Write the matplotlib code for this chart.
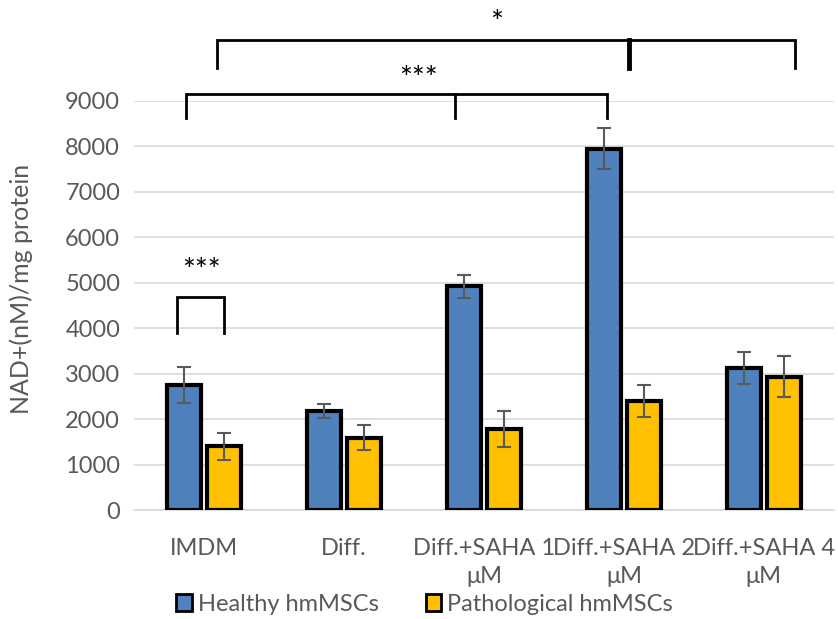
import numpy as np
import matplotlib.pyplot as plt

plt.rcParams['font.family'] = ['Lato', 'DejaVu Sans']

categories = ['IMDM', 'Diff.', 'Diff.+SAHA 1\nμM', 'Diff.+SAHA 2\nμM', 'Diff.+SAHA 4\nμM']
healthy = [2750, 2180, 4920, 7950, 3120]
healthy_err = [390, 145, 260, 445, 355]
pathological = [1400, 1590, 1780, 2400, 2930]
pathological_err = [305, 270, 390, 360, 450]
series_names = ['Healthy hmMSCs', 'Pathological hmMSCs']
yticks = [0, 1000, 2000, 3000, 4000, 5000, 6000, 7000, 8000, 9000]

blue = '#4f81bd'
yellow = '#ffc000'
grey = '#595959'

fig = plt.figure(figsize=(8.38, 6.19), dpi=100)
ax = fig.add_axes([0.16, 0.176, 0.835, 0.661])

x = np.arange(len(categories))
w = 0.243
off = 0.143
ax.bar(x - off, healthy, w, color=blue, edgecolor='black', linewidth=3,
       label=series_names[0], zorder=3)
ax.bar(x + off, pathological, w, color=yellow, edgecolor='black', linewidth=3,
       label=series_names[1], zorder=3)
ax.errorbar(x - off, healthy, yerr=healthy_err, fmt='none', ecolor=grey,
            elinewidth=1.5, capsize=5, capthick=1.5, zorder=4)
ax.errorbar(x + off, pathological, yerr=pathological_err, fmt='none', ecolor=grey,
            elinewidth=1.5, capsize=5, capthick=1.5, zorder=4)

ax.set_xlim(-0.5, len(categories) - 0.5)
ax.set_ylim(0, 9000)
ax.set_yticks(yticks)
ax.yaxis.grid(True, color='#d9d9d9', linewidth=1.2, zorder=0)
ax.set_axisbelow(True)
for s in ['top', 'right', 'left']:
    ax.spines[s].set_visible(False)
ax.spines['bottom'].set_color('#d9d9d9')
ax.spines['bottom'].set_linewidth(1.2)
ax.tick_params(axis='both', length=0, labelsize=17, colors=grey, pad=10)
ax.tick_params(axis='x', pad=20)
ax.set_xticks(x)
ax.set_xticklabels(categories, linespacing=1.45)
ax.set_ylabel('NAD+(nM)/mg protein', fontsize=18, color=grey)
ax.yaxis.set_label_coords(-0.145, 0.54)


def bracket(xs, y, leg, label, tx, ty, mid_lw=2):
    ax.plot([xs[0], xs[0], xs[-1], xs[-1]], [leg, y, y, leg], color='black',
            lw=2, clip_on=False, zorder=5, solid_joinstyle='miter')
    for xm in xs[1:-1]:
        ax.plot([xm, xm], [y, leg], color='black', lw=mid_lw, clip_on=False, zorder=5)
    ax.text(tx, ty, label, ha='center', va='center', fontsize=22, clip_on=False)


# significance brackets
bracket([-0.19, 0.143], 4680, 3900, '***', -0.02, 5250)
bracket([-0.13, 1.79, 2.88], 9160, 8630, '***', 1.53, 9480)
bracket([0.093, 3.04, 4.22], 10340, 9730, '*', 2.09, 10720, mid_lw=3.5)

leg = ax.legend(loc='upper center', bbox_to_anchor=(0.415, -0.205), ncol=2,
                frameon=False, fontsize=17, handlelength=0.65, handleheight=0.7,
                columnspacing=2.0, handletextpad=0.25, labelcolor=grey,
                borderaxespad=0, borderpad=0)
for h in leg.legend_handles:
    h.set_linewidth(2)

fig.savefig('out.png', dpi=100)
